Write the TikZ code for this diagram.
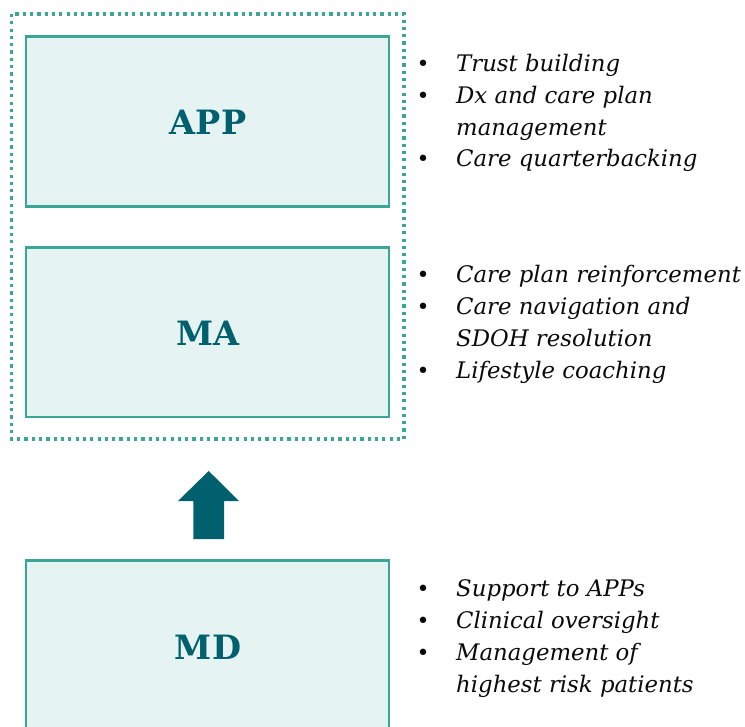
\documentclass[tikz,border=0pt]{standalone}
\usepackage{fontspec}
\setmainfont{DejaVu Serif}
\definecolor{boxline}{RGB}{58,166,150}
\definecolor{boxfill}{RGB}{229,243,242}
\definecolor{darkteal}{RGB}{0,96,110}
\definecolor{bultext}{RGB}{10,10,10}
\tikzset{
  rolebox/.style={draw=boxline, fill=boxfill, line width=2.6pt},
  rolelabel/.style={font=\fontsize{33.5}{40}\selectfont\bfseries, text=darkteal, inner sep=0pt},
  bul/.style={font=\fontsize{22}{24}\selectfont, text=bultext, inner sep=0pt, anchor=base},
  itm/.style={font=\fontsize{22.8}{26}\selectfont\itshape, text=bultext, inner sep=0pt, anchor=base west},
}
\begin{document}
\begin{tikzpicture}[x=1pt,y=-1pt]
\useasboundingbox (0,0) rectangle (745,727);
% dotted group
\draw[boxline, line width=3.4pt, dash pattern=on 3.2pt off 4.1pt] (11.5,14) rectangle (404,439);
% boxes
\draw[rolebox] (26,36.5) rectangle (389,206.5);
\draw[rolebox] (26,247.5) rectangle (389,417);
\draw[rolebox] (26,560.5) rectangle (389,740);
\node[rolelabel] (app) at (208,122) {APP};
\node[rolelabel] (ma) at (208,333) {MA};
\node[rolelabel] (md) at (208,647) {MD};
% arrow
\fill[darkteal] (208.7,471) -- (239,501) -- (224,501) -- (224,539) -- (193.3,539) -- (193.3,501) -- (178,501) -- cycle;
% APP list
\node[bul] (ab1) at (423,72) {•};
\node[itm] (at1) at (456,72) {Trust building};
\node[bul] (ab2) at (423,104) {•};
\node[itm] (at2) at (456,104) {Dx and care plan};
\node[itm] (at3) at (456,136) {management};
\node[bul] (ab3) at (423,167) {•};
\node[itm] (at4) at (456,167) {Care quarterbacking};
% MA list
\node[bul] (mb1) at (423,283) {•};
\node[itm] (mt1) at (456,283) {Care plan reinforcement};
\node[bul] (mb2) at (423,315) {•};
\node[itm] (mt2) at (456,315) {Care navigation and};
\node[itm] (mt3) at (456,347) {SDOH resolution};
\node[bul] (mb3) at (423,379) {•};
\node[itm] (mt4) at (456,379) {Lifestyle coaching};
% MD list
\node[bul] (db1) at (423,596) {•};
\node[itm] (dt1) at (456,596) {Support to APPs};
\node[bul] (db2) at (423,628) {•};
\node[itm] (dt2) at (456,628) {Clinical oversight};
\node[bul] (db3) at (423,660) {•};
\node[itm] (dt3) at (456,660) {Management of};
\node[itm] (dt4) at (456,692) {highest risk patients};
\end{tikzpicture}
\end{document}
